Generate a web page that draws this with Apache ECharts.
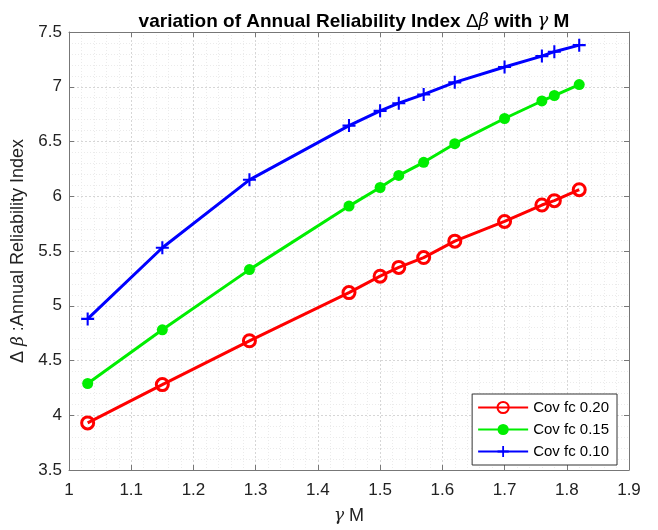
<!DOCTYPE html>
<html>
<head>
<meta charset="utf-8">
<script src="https://cdn.jsdelivr.net/npm/echarts@6/dist/echarts.min.js"></script>
<style>
  html, body { margin: 0; padding: 0; background: #fff; }
  #main { width: 658px; height: 530px; }
</style>
</head>
<body>
<div id="main"></div>
<script>
/* data */
var gammaM = [1.03, 1.15, 1.29, 1.45, 1.50, 1.53, 1.57, 1.62, 1.70, 1.76, 1.78, 1.82];
var cov020 = [3.93, 4.28, 4.68, 5.12, 5.27, 5.35, 5.44, 5.59, 5.77, 5.92, 5.96, 6.06];
var cov015 = [4.29, 4.78, 5.33, 5.91, 6.08, 6.19, 6.31, 6.48, 6.71, 6.87, 6.92, 7.02];
var cov010 = [4.88, 5.53, 6.15, 6.645, 6.78, 6.85, 6.93, 7.04, 7.18, 7.28, 7.32, 7.38];
var seriesNames = ['Cov fc 0.20', 'Cov fc 0.15', 'Cov fc 0.10'];

function pairs(ys) {
  var out = [];
  for (var i = 0; i < gammaM.length; i++) out.push([gammaM[i], ys[i]]);
  return out;
}

var font = 'Liberation Sans, Arial, sans-serif';
var plusPath = 'path://M4.2,0H5.8V4.2H10V5.8H5.8V10H4.2V5.8H0V4.2H4.2Z';

var myChart = echarts.init(document.getElementById('main'));

// 网格线样式
var majorGrid = { show: true, lineStyle: { color: '#d6d6d6', width: 1, type: [2, 2] } };
var minorGrid = { show: true, lineStyle: { color: '#ebebeb', width: 1, type: [1, 2] } };

var option = {
  backgroundColor: '#fff',
  animation: false,
  title: {
    left: 349,
    textAlign: 'center',
    top: 7,
    text: '{n|variation of Annual Reliability Index }{g|Δ}{i|β}{n| with }{i|γ}{n| M}',
    textStyle: {
      rich: {
        n: { fontFamily: font, fontSize: 19, fontWeight: 'bold', color: '#000' },
        g: { fontFamily: font, fontSize: 19, fontWeight: 'normal', color: '#000' },
        i: { fontFamily: 'DejaVu Serif, serif', fontSize: 18, fontWeight: 'normal', fontStyle: 'italic', color: '#000' }
      }
    }
  },
  grid: { left: 69, top: 32, right: 29, bottom: 58, containLabel: false },
  legend: {
    orient: 'vertical',
    right: 41,
    top: 394,
    itemWidth: 50,
    itemHeight: 14,
    itemGap: 7,
    padding: [6, 8, 6, 5],
    backgroundColor: '#fff',
    borderColor: '#333',
    borderWidth: 1,
    borderRadius: 0,
    textStyle: { fontFamily: font, fontSize: 15, color: '#000' },
    data: seriesNames
  },
  xAxis: [{
    type: 'value',
    min: 1, max: 1.9, interval: 0.1,
    name: '{i|γ}{n| M}',
    nameLocation: 'middle',
    nameGap: 37,
    nameTextStyle: {
      rich: {
        n: { fontFamily: font, fontSize: 18, color: '#222' },
        i: { fontFamily: 'DejaVu Serif, serif', fontSize: 17, fontStyle: 'italic', color: '#222' }
      }
    },
    axisLine: { show: true, lineStyle: { color: '#777', width: 1 } },
    axisTick: { show: true, inside: true, length: 5, lineStyle: { color: '#777' } },
    axisLabel: {
      margin: 12, fontFamily: font, fontSize: 17, color: '#222',
      formatter: function (v) { return +v.toFixed(1) + ''; }
    },
    splitLine: majorGrid,
    minorTick: { show: false, splitNumber: 5 },
    minorSplitLine: minorGrid
  }, {
    type: 'value', position: 'top',
    min: 1, max: 1.9, interval: 0.1,
    axisLine: { show: true, lineStyle: { color: '#777', width: 1 } },
    axisTick: { show: true, inside: true, length: 5, lineStyle: { color: '#777' } },
    axisLabel: { show: false },
    splitLine: { show: false }
  }],
  yAxis: [{
    type: 'value',
    min: 3.5, max: 7.5, interval: 0.5,
    name: '{n|Δ }{i|β}{n| :Annual Reliability Index}',
    nameLocation: 'middle',
    nameGap: 38,
    nameRotate: 90,
    nameTextStyle: {
      rich: {
        n: { fontFamily: font, fontSize: 18, color: '#222' },
        i: { fontFamily: 'DejaVu Serif, serif', fontSize: 17, fontStyle: 'italic', color: '#222' }
      }
    },
    axisLine: { show: true, lineStyle: { color: '#777', width: 1 } },
    axisTick: { show: true, inside: true, length: 5, lineStyle: { color: '#777' } },
    axisLabel: { margin: 7, fontFamily: font, fontSize: 17, color: '#222' },
    splitLine: majorGrid,
    minorTick: { show: false, splitNumber: 5 },
    minorSplitLine: minorGrid
  }, {
    type: 'value', position: 'right',
    min: 3.5, max: 7.5, interval: 0.5,
    axisLine: { show: true, lineStyle: { color: '#777', width: 1 } },
    axisTick: { show: true, inside: true, length: 5, lineStyle: { color: '#777' } },
    axisLabel: { show: false },
    splitLine: { show: false }
  }],
  series: [{
    name: seriesNames[0],
    type: 'line',
    data: pairs(cov020),
    symbol: 'circle',
    symbolSize: 12,
    color: '#ff0000',
    lineStyle: { color: '#ff0000', width: 3 },
    itemStyle: { color: 'rgba(255,255,255,0)', borderColor: '#ff0000', borderWidth: 3 }
  }, {
    name: seriesNames[1],
    type: 'line',
    data: pairs(cov015),
    symbol: 'circle',
    symbolSize: 11,
    color: '#00ee00',
    lineStyle: { color: '#00ee00', width: 3 },
    itemStyle: { color: '#00ee00' }
  }, {
    name: seriesNames[2],
    type: 'line',
    data: pairs(cov010),
    symbol: plusPath,
    symbolSize: 13,
    color: '#0000ff',
    lineStyle: { color: '#0000ff', width: 3 },
    itemStyle: { color: '#0000ff' }
  }]
};
myChart.setOption(option);
</script>
</body>
</html>
